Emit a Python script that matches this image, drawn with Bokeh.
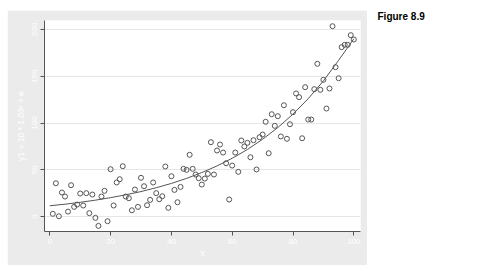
from bokeh.plotting import figure
from bokeh.models import FixedTicker, Label, Spacer, Range1d
from bokeh.layouts import row, column
from bokeh.embed import file_html
from bokeh.resources import INLINE

# scatter data
x_pts = list(range(1, 101))
y_pts = [2.9, 35.6, 0.3, 25.7, 21.4, 5.3, 33.5, 10.3, 12.8, 24.6,
         11.8, 25.0, 3.6, 23.5, -1.4, -10.0, 21.4, 27.5, -5.0, 50.6,
         11.8, 36.4, 39.9, 53.8, 21.4, 19.6, 6.7, 28.9, 10.3, 41.4,
         32.4, 12.1, 17.8, 36.4, 25.0, 18.5, 21.7, 53.5, 9.3, 43.1,
         28.5, 15.3, 31.7, 51.0, 49.9, 66.0, 51.0, 44.9, 41.0, 34.2,
         40.6, 45.6, 79.5, 44.9, 70.6, 77.0, 68.4, 57.0, 18.2, 54.5,
         68.4, 47.8, 81.3, 74.9, 78.8, 63.4, 81.6, 50.3, 84.8, 87.7,
         101.3, 67.7, 109.4, 97.0, 107.3, 85.6, 119.0, 83.1, 98.7, 111.6,
         131.6, 127.6, 83.7, 138.3, 103.7, 103.7, 136.2, 163.3, 135.5, 146.2,
         115.5, 136.9, 203.5, 159.7, 147.9, 181.1, 183.6, 183.6, 193.9, 189.3]

# fitted curve
x_fit = [0, 5, 10, 15, 20, 25, 30, 35, 40, 45, 50, 55, 60, 65, 70, 75, 80, 85, 90, 95, 100]
y_fit = [11.5, 13.2, 15.2, 17.5, 20.2, 23.2, 26.7, 30.8, 35.4, 40.8, 47.0,
         54.1, 62.3, 71.7, 82.6, 95.1, 109.5, 126.0, 145.0, 167.0, 190.0]

x_ticks = [0, 20, 40, 60, 80, 100]
y_ticks = [0, 50, 100, 150, 200]

x_title = "x"
y_title = "y1 = 10 * 1.03\u02e3 + e"
fig_label = "Figure 8.9"

panel = "#ebebeb"
ink = "#555555"
font = "Liberation Sans"

p = figure(width=360, height=255, output_backend="svg", toolbar_location=None,
           x_range=Range1d(-1.74, 102.2), y_range=Range1d(-16, 209.6),
           min_border_left=37, min_border_right=7, min_border_top=10, min_border_bottom=34)
p.border_fill_color = panel
p.background_fill_color = "white"
p.outline_line_color = None

p.line(x_fit, y_fit, line_color=ink, line_width=1)
p.scatter(x_pts, y_pts, size=5, fill_color=None, line_color=ink, line_width=1)

for ax in (p.xaxis[0], p.yaxis[0]):
    ax.axis_line_color = "#555555"
    ax.major_tick_line_color = "#555555"
    ax.major_tick_out = 4
    ax.major_tick_in = 0
    ax.minor_tick_line_color = None
    ax.major_label_text_color = "white"
    ax.major_label_text_font = font
    ax.major_label_text_font_size = "8px"
    ax.axis_label_text_color = "white"
    ax.axis_label_text_font = font
    ax.axis_label_text_font_size = "8.5px"
    ax.axis_label_text_font_style = "normal"
    ax.major_label_standoff = 3

p.xaxis.ticker = FixedTicker(ticks=x_ticks)
p.yaxis.ticker = FixedTicker(ticks=y_ticks)
p.xaxis.axis_label = x_title
p.yaxis.axis_label = y_title
p.xaxis.axis_label_standoff = 1
p.yaxis.axis_label_standoff = 4
p.yaxis.major_label_orientation = "vertical"

p.xgrid.grid_line_color = None
p.ygrid.grid_line_color = "#e6e6e6"
p.ygrid.grid_line_width = 1

p2 = figure(width=115, height=277, output_backend="svg", toolbar_location=None,
            x_axis_type=None, y_axis_type=None, min_border=0,
            x_range=Range1d(0, 1), y_range=Range1d(0, 1))
p2.outline_line_color = None
p2.grid.grid_line_color = None
p2.border_fill_color = "white"
p2.background_fill_color = "white"
p2.add_layout(Label(x=10, y=261, x_units="screen", y_units="screen", text=fig_label,
                    text_font=font, text_font_size="10px", text_font_style="bold",
                    text_color="black", text_baseline="middle", text_align="left"))

layout = row(column(Spacer(width=367, height=10),
                    row(Spacer(width=7, height=255), p),
                    Spacer(width=367, height=12)),
             p2)

open("out.html", "w").write(file_html(layout, INLINE))
